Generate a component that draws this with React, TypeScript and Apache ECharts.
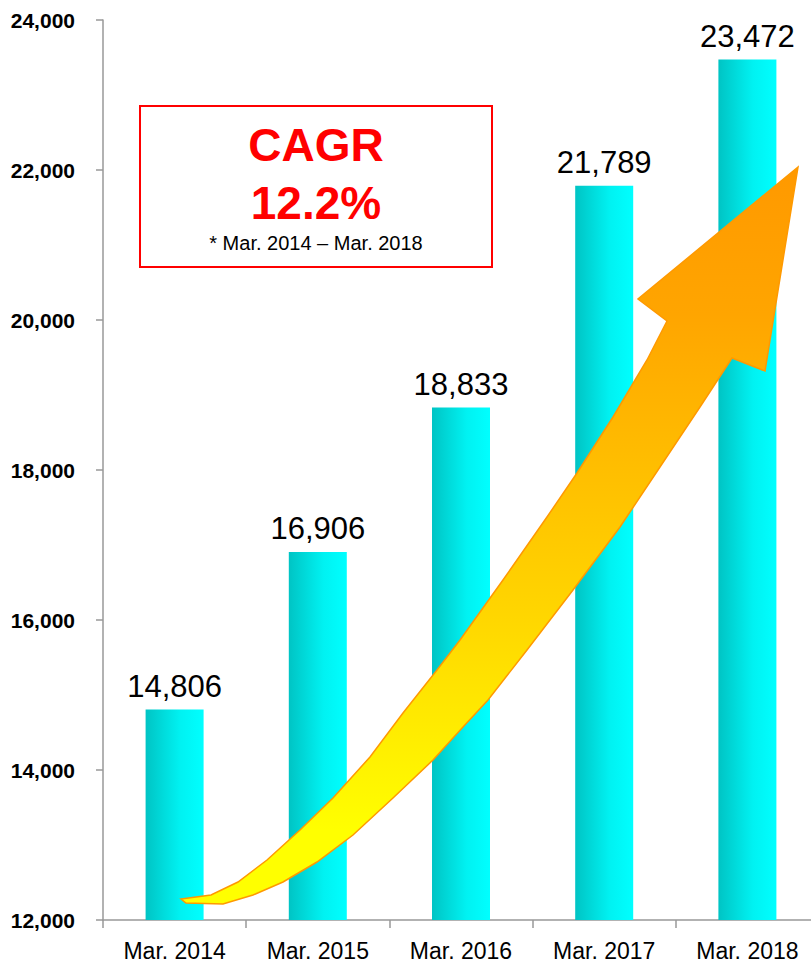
import React, { useEffect, useRef } from "react";
import * as echarts from "echarts";

const categories = ["Mar. 2014", "Mar. 2015", "Mar. 2016", "Mar. 2017", "Mar. 2018"];
const values = [14806, 16906, 18833, 21789, 23472];
const yMin = 12000;
const yMax = 24000;
const yInterval = 2000;
const cagrTitle = "CAGR";
const cagrValue = "12.2%";
const cagrNote = "* Mar. 2014 \u2013 Mar. 2018";

// decorative growth arrow outline (pixels)
const arrowPoints: number[][] = [
  [181, 899], [211, 895], [238, 882], [267, 860], [300, 830], [333, 798], [370, 757],
  [403, 713], [437, 670], [460, 640], [503, 580], [547, 517], [577, 473], [613, 417],
  [647, 360], [667, 321], [638, 299], [798, 167], [765, 371], [732, 358], [700, 407],
  [660, 467], [620, 527], [573, 590], [527, 650], [488, 700], [463, 727], [433, 760],
  [393, 798], [353, 835], [317, 862], [283, 882], [253, 895], [223, 904], [186, 903],
];

const FONT = '"Liberation Sans", Arial, Helvetica, sans-serif';

export default function App() {
  const ref = useRef<HTMLDivElement>(null);
  useEffect(() => {
    if (!ref.current) return;
    const chart = echarts.init(ref.current, null, { renderer: "svg" });
    chart.setOption({
      animation: false,
      backgroundColor: "#ffffff",
      textStyle: { fontFamily: FONT },
      grid: { left: 103, top: 20, width: 716, height: 900, outerBoundsMode: "none", containLabel: false },
      xAxis: {
        type: "category",
        data: categories,
        boundaryGap: true,
        axisLine: { lineStyle: { color: "#999999", width: 1.5 } },
        axisTick: { show: true, length: 8, lineStyle: { color: "#999999", width: 1.5 } },
        axisLabel: {
          color: "#000000",
          fontSize: 23,
          fontWeight: "normal",
          fontFamily: FONT,
          margin: 19,
          interval: 0,
        },
        splitLine: { show: false },
      },
      yAxis: {
        type: "value",
        min: yMin,
        max: yMax,
        interval: yInterval,
        axisLine: { show: true, lineStyle: { color: "#999999", width: 1.5 } },
        axisTick: { show: true, length: 7, lineStyle: { color: "#999999", width: 1.5 } },
        axisLabel: {
          color: "#000000",
          fontSize: 21,
          fontWeight: "bold",
          fontFamily: FONT,
          margin: 28,
          formatter: (v: number) => v.toLocaleString("en-US"),
        },
        splitLine: { show: false },
      },
      series: [
        {
          type: "bar",
          data: values,
          barWidth: 58,
          itemStyle: {
            color: new echarts.graphic.LinearGradient(0, 0, 1, 0, [
              { offset: 0, color: "#00C4C4" },
              { offset: 0.6, color: "#00F2F2" },
              { offset: 1, color: "#00FFFF" },
            ]),
          },
          label: {
            show: true,
            position: "top",
            distance: 8,
            color: "#000000",
            fontSize: 31,
            fontWeight: "normal",
            fontFamily: FONT,
            formatter: (p: any) => Number(p.value).toLocaleString("en-US"),
          },
        },
      ],
      graphic: [
        {
          type: "polygon",
          z: 100,
          shape: { points: arrowPoints },
          style: {
            fill: new echarts.graphic.LinearGradient(0, 0, 0, 1, [
              { offset: 0, color: "#FF9900" },
              { offset: 0.2, color: "#FFA500" },
              { offset: 0.6, color: "#FFD500" },
              { offset: 0.9, color: "#FFFF00" },
              { offset: 1, color: "#FFFF00" },
            ]),
            stroke: "#FF9900",
            lineWidth: 1.5,
          },
        },
        {
          type: "rect",
          z: 100,
          shape: { x: 140, y: 106, width: 352, height: 161 },
          style: { fill: "#ffffff", stroke: "#FF0000", lineWidth: 2 },
        },
        {
          type: "text",
          z: 101,
          x: 316,
          y: 145,
          style: {
            text: cagrTitle,
            fill: "#FF0000",
            font: `bold 46px ${FONT}`,
            align: "center",
            verticalAlign: "middle",
          },
        },
        {
          type: "text",
          z: 101,
          x: 316,
          y: 203,
          style: {
            text: cagrValue,
            fill: "#FF0000",
            font: `bold 46px ${FONT}`,
            align: "center",
            verticalAlign: "middle",
          },
        },
        {
          type: "text",
          z: 101,
          x: 316,
          y: 243,
          style: {
            text: cagrNote,
            fill: "#000000",
            font: `20px ${FONT}`,
            align: "center",
            verticalAlign: "middle",
          },
        },
      ],
    });
    return () => chart.dispose();
  }, []);
  return (
    <div
      ref={ref}
      style={{ position: "absolute", left: 0, top: 0, width: 811, height: 964 }}
    />
  );
}
